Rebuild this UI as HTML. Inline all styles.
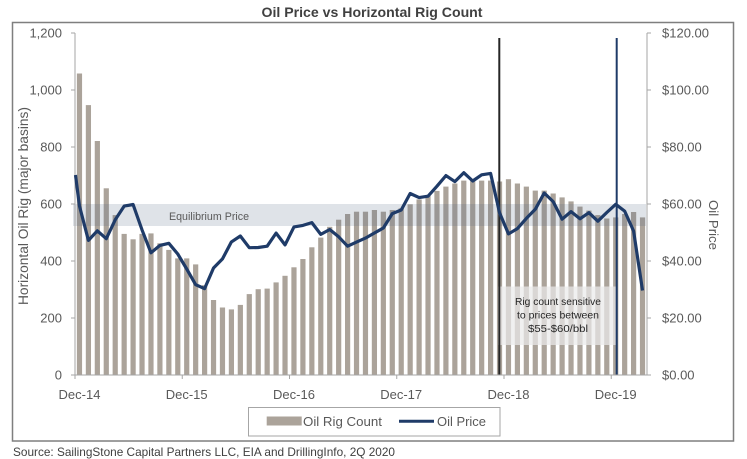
<!DOCTYPE html>
<html><head><meta charset="utf-8"><style>
html,body{margin:0;padding:0;background:#fff;}
svg{display:block;font-family:"Liberation Sans",Arial,sans-serif;}
</style></head><body>
<svg width="747" height="459" viewBox="0 0 747 459" xmlns="http://www.w3.org/2000/svg">
<rect x="0" y="0" width="747" height="459" fill="#fff"/>
<text x="372" y="17" text-anchor="middle" font-size="14" font-weight="bold" fill="#404040" textLength="221" lengthAdjust="spacingAndGlyphs">Oil Price vs Horizontal Rig Count</text>
<rect x="12.5" y="22.5" width="721" height="418.5" fill="none" stroke="#7f7f7f" stroke-width="1.5"/>

<!-- bars -->
<g fill="#aba39a">
<rect x="76.87" y="73.5" width="5.2" height="301.5"/>
<rect x="85.81" y="105.1" width="5.2" height="269.9"/>
<rect x="94.75" y="141.0" width="5.2" height="234.0"/>
<rect x="103.68" y="188.3" width="5.2" height="186.7"/>
<rect x="112.62" y="215.1" width="5.2" height="159.9"/>
<rect x="121.56" y="233.9" width="5.2" height="141.1"/>
<rect x="130.50" y="239.3" width="5.2" height="135.7"/>
<rect x="139.43" y="233.9" width="5.2" height="141.1"/>
<rect x="148.37" y="233.4" width="5.2" height="141.6"/>
<rect x="157.31" y="243.3" width="5.2" height="131.7"/>
<rect x="166.25" y="249.9" width="5.2" height="125.1"/>
<rect x="175.18" y="258.4" width="5.2" height="116.6"/>
<rect x="184.12" y="258.4" width="5.2" height="116.6"/>
<rect x="193.06" y="264.4" width="5.2" height="110.6"/>
<rect x="202.00" y="285.2" width="5.2" height="89.8"/>
<rect x="210.93" y="300.0" width="5.2" height="75.0"/>
<rect x="219.87" y="307.5" width="5.2" height="67.5"/>
<rect x="228.81" y="309.4" width="5.2" height="65.6"/>
<rect x="237.75" y="304.9" width="5.2" height="70.1"/>
<rect x="246.68" y="294.1" width="5.2" height="80.9"/>
<rect x="255.62" y="289.2" width="5.2" height="85.8"/>
<rect x="264.56" y="288.6" width="5.2" height="86.4"/>
<rect x="273.50" y="282.4" width="5.2" height="92.6"/>
<rect x="282.43" y="275.8" width="5.2" height="99.2"/>
<rect x="291.37" y="267.3" width="5.2" height="107.7"/>
<rect x="300.31" y="259.0" width="5.2" height="116.0"/>
<rect x="309.25" y="247.3" width="5.2" height="127.7"/>
<rect x="318.18" y="237.6" width="5.2" height="137.4"/>
<rect x="327.12" y="226.8" width="5.2" height="148.2"/>
<rect x="336.06" y="219.7" width="5.2" height="155.3"/>
<rect x="345.00" y="214.0" width="5.2" height="161.0"/>
<rect x="353.93" y="211.7" width="5.2" height="163.3"/>
<rect x="362.87" y="211.7" width="5.2" height="163.3"/>
<rect x="371.81" y="210.0" width="5.2" height="165.0"/>
<rect x="380.75" y="211.7" width="5.2" height="163.3"/>
<rect x="389.68" y="210.0" width="5.2" height="165.0"/>
<rect x="398.62" y="208.3" width="5.2" height="166.7"/>
<rect x="407.56" y="204.3" width="5.2" height="170.7"/>
<rect x="416.50" y="199.4" width="5.2" height="175.6"/>
<rect x="425.43" y="196.0" width="5.2" height="179.0"/>
<rect x="434.37" y="190.9" width="5.2" height="184.1"/>
<rect x="443.31" y="186.6" width="5.2" height="188.4"/>
<rect x="452.25" y="183.5" width="5.2" height="191.5"/>
<rect x="461.18" y="180.6" width="5.2" height="194.4"/>
<rect x="470.12" y="180.6" width="5.2" height="194.4"/>
<rect x="479.06" y="180.6" width="5.2" height="194.4"/>
<rect x="488.00" y="180.6" width="5.2" height="194.4"/>
<rect x="496.93" y="181.5" width="5.2" height="193.5"/>
<rect x="505.87" y="179.2" width="5.2" height="195.8"/>
<rect x="514.81" y="183.5" width="5.2" height="191.5"/>
<rect x="523.75" y="186.6" width="5.2" height="188.4"/>
<rect x="532.68" y="190.6" width="5.2" height="184.4"/>
<rect x="541.62" y="190.6" width="5.2" height="184.4"/>
<rect x="550.56" y="193.5" width="5.2" height="181.5"/>
<rect x="559.50" y="197.4" width="5.2" height="177.6"/>
<rect x="568.43" y="201.4" width="5.2" height="173.6"/>
<rect x="577.37" y="206.6" width="5.2" height="168.4"/>
<rect x="586.31" y="210.6" width="5.2" height="164.4"/>
<rect x="595.25" y="215.1" width="5.2" height="159.9"/>
<rect x="604.18" y="218.5" width="5.2" height="156.5"/>
<rect x="613.12" y="217.4" width="5.2" height="157.6"/>
<rect x="622.06" y="214.0" width="5.2" height="161.0"/>
<rect x="631.00" y="212.0" width="5.2" height="163.0"/>
<rect x="639.93" y="217.4" width="5.2" height="157.6"/>
</g>

<!-- equilibrium band -->
<rect x="73" y="204" width="573" height="22" fill="rgb(80,100,130)" fill-opacity="0.18"/>
<text x="209" y="220" text-anchor="middle" font-size="11" fill="#595959" textLength="80" lengthAdjust="spacingAndGlyphs">Equilibrium Price</text>

<!-- annotation box -->
<rect x="498" y="286.5" width="119" height="58.5" fill="rgb(234,234,234)" fill-opacity="0.72"/>
<g font-size="10.5" fill="#262626" text-anchor="middle">
<text x="558" y="305" textLength="86" lengthAdjust="spacingAndGlyphs">Rig count sensitive</text>
<text x="558" y="318.5" textLength="82" lengthAdjust="spacingAndGlyphs">to prices between</text>
<text x="558" y="332" textLength="60" lengthAdjust="spacingAndGlyphs">$55-$60/bbl</text>
</g>

<!-- vertical lines -->
<line x1="499.3" y1="38" x2="499.3" y2="375" stroke="#262626" stroke-width="2"/>
<line x1="616.7" y1="38" x2="616.7" y2="375" stroke="#1f3b68" stroke-width="2"/>

<!-- axes -->
<g stroke="#a6a6a6" stroke-width="1">
<line x1="75" y1="33" x2="75" y2="375"/>
<line x1="647" y1="33" x2="647" y2="375"/>
<line x1="75" y1="375" x2="647" y2="375"/>
<line x1="71" y1="33" x2="75" y2="33"/>
<line x1="71" y1="90" x2="75" y2="90"/>
<line x1="71" y1="147" x2="75" y2="147"/>
<line x1="71" y1="204" x2="75" y2="204"/>
<line x1="71" y1="261" x2="75" y2="261"/>
<line x1="71" y1="318" x2="75" y2="318"/>
<line x1="71" y1="375" x2="75" y2="375"/>
<line x1="647" y1="33" x2="651" y2="33"/>
<line x1="647" y1="90" x2="651" y2="90"/>
<line x1="647" y1="147" x2="651" y2="147"/>
<line x1="647" y1="204" x2="651" y2="204"/>
<line x1="647" y1="261" x2="651" y2="261"/>
<line x1="647" y1="318" x2="651" y2="318"/>
<line x1="647" y1="375" x2="651" y2="375"/>
<line x1="75" y1="375" x2="75" y2="379"/>
<line x1="182.25" y1="375" x2="182.25" y2="379"/>
<line x1="289.5" y1="375" x2="289.5" y2="379"/>
<line x1="396.75" y1="375" x2="396.75" y2="379"/>
<line x1="504" y1="375" x2="504" y2="379"/>
<line x1="611.25" y1="375" x2="611.25" y2="379"/>
</g>

<!-- oil price line -->
<polyline fill="none" stroke="#1f3b68" stroke-width="3.2" stroke-linejoin="round" points="75.5,175 79.47,206.0 88.41,240.4 97.34,230.8 106.28,238.7 115.22,219.8 124.16,206.1 133.09,204.5 142.03,229.9 150.97,252.8 159.91,245.4 168.84,243.3 177.78,254.0 186.72,269.0 195.66,284.7 204.59,288.6 213.53,268.0 222.47,258.9 231.41,241.9 240.34,236.0 249.28,247.7 258.22,247.5 267.16,246.2 276.09,233.1 285.03,244.9 293.97,226.9 302.91,225.4 311.84,222.6 320.78,234.4 329.72,229.5 338.66,236.8 347.59,246.2 356.53,242.1 365.47,238.1 374.41,233.0 383.34,228.0 392.28,213.6 401.22,210.0 410.16,193.5 419.09,197.6 428.03,196.2 436.97,186.2 445.91,175.6 454.84,181.6 463.78,172.7 472.72,181.0 481.66,174.8 490.59,173.4 499.53,212.7 508.47,233.9 517.41,228.6 526.34,218.4 535.28,209.3 544.22,193.0 553.16,201.6 562.09,219.2 571.03,211.6 579.97,218.8 588.91,212.7 597.84,221.2 606.78,212.5 615.72,204.3 624.66,211.1 633.59,231.0 642.53,290.5"/>

<!-- left tick labels -->
<g font-size="13" fill="#595959" text-anchor="end">
<text x="62" y="37.7">1,200</text>
<text x="62" y="94.7">1,000</text>
<text x="62" y="151.7">800</text>
<text x="62" y="208.7">600</text>
<text x="62" y="265.7">400</text>
<text x="62" y="322.7">200</text>
<text x="62" y="379.7">0</text>
</g>
<!-- right tick labels -->
<g font-size="13" fill="#595959">
<text x="662" y="37.7">$120.00</text>
<text x="662" y="94.7">$100.00</text>
<text x="662" y="151.7">$80.00</text>
<text x="662" y="208.7">$60.00</text>
<text x="662" y="265.7">$40.00</text>
<text x="662" y="322.7">$20.00</text>
<text x="662" y="379.7">$0.00</text>
</g>
<!-- x labels -->
<g font-size="13" fill="#595959" text-anchor="middle">
<text x="79.5" y="399">Dec-14</text>
<text x="186.7" y="399">Dec-15</text>
<text x="294" y="399">Dec-16</text>
<text x="401.2" y="399">Dec-17</text>
<text x="508.5" y="399">Dec-18</text>
<text x="615.7" y="399">Dec-19</text>
</g>

<!-- axis titles -->
<text transform="translate(28,206) rotate(-90)" text-anchor="middle" font-size="13.5" fill="#595959" textLength="198" lengthAdjust="spacingAndGlyphs">Horizontal Oil Rig (major basins)</text>
<text transform="translate(709,225) rotate(90)" text-anchor="middle" font-size="13" fill="#595959" textLength="50" lengthAdjust="spacingAndGlyphs">Oil Price</text>

<!-- legend -->
<rect x="248.5" y="407.5" width="251.5" height="28.5" fill="#fff" stroke="#a6a6a6" stroke-width="1"/>
<rect x="266.7" y="416.5" width="35" height="9" fill="#aba39a"/>
<text x="303" y="426" font-size="13" fill="#595959" textLength="79" lengthAdjust="spacingAndGlyphs">Oil Rig Count</text>
<line x1="399" y1="421.3" x2="434" y2="421.3" stroke="#1f3b68" stroke-width="3"/>
<text x="437" y="426" font-size="13" fill="#595959" textLength="49" lengthAdjust="spacingAndGlyphs">Oil Price</text>

<!-- source -->
<text x="13" y="456" font-size="12" fill="#404040" textLength="382" lengthAdjust="spacingAndGlyphs">Source: SailingStone Capital Partners LLC, EIA and DrillingInfo, 2Q 2020</text>
</svg>
</body></html>
